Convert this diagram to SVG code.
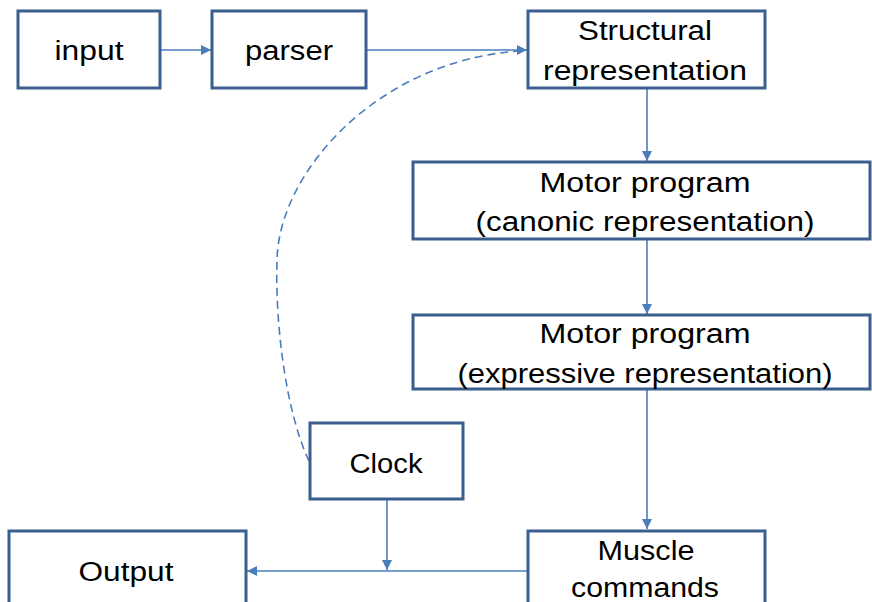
<svg xmlns="http://www.w3.org/2000/svg" width="872" height="602" viewBox="0 0 872 602">
  <style>
    .box { fill: #ffffff; stroke: #3a5f8e; stroke-width: 3; }
    .lbl { font-family: "Liberation Sans", Arial, sans-serif; font-size: 27px; fill: #000000; text-anchor: middle; }
    .edge { fill: none; stroke: #4a7ebb; stroke-width: 1.6; }
    .dash { stroke-dasharray: 8 5; }
  </style>
  <defs>
    <marker id="arrow" viewBox="0 0 10 10" refX="10" refY="5" markerWidth="10" markerHeight="10" markerUnits="userSpaceOnUse" orient="auto">
      <path d="M0,0 L10,5 L0,10 Z" fill="#4a7ebb"/>
    </marker>
  </defs>
  <rect width="872" height="602" fill="#ffffff"/>

  <g id="connectors">
    <line class="edge" x1="160" y1="50" x2="211" y2="50" marker-end="url(#arrow)"/>
    <line class="edge" x1="366" y1="50" x2="527" y2="50" marker-end="url(#arrow)"/>
    <path class="edge dash" d="M309,461 C285,410 275,320 277,260 C279,170 380,60 520,51"/>
    <line class="edge" x1="647" y1="88" x2="647" y2="161" marker-end="url(#arrow)"/>
    <line class="edge" x1="647" y1="239" x2="647" y2="314" marker-end="url(#arrow)"/>
    <line class="edge" x1="647" y1="389" x2="647" y2="529" marker-end="url(#arrow)"/>
    <line class="edge" x1="527" y1="571" x2="247" y2="571" marker-end="url(#arrow)"/>
    <line class="edge" x1="387" y1="499" x2="387" y2="570" marker-end="url(#arrow)"/>
  </g>

  <g id="input">
    <rect class="box" x="18" y="11" width="142" height="77"/>
    <text class="lbl" x="89" y="60" textLength="69" lengthAdjust="spacingAndGlyphs">input</text>
  </g>
  <g id="parser">
    <rect class="box" x="212" y="11" width="154" height="77"/>
    <text class="lbl" x="289" y="60" textLength="88" lengthAdjust="spacingAndGlyphs">parser</text>
  </g>
  <g id="structural">
    <rect class="box" x="528" y="11" width="237" height="77"/>
    <text class="lbl" x="645" y="40" textLength="134" lengthAdjust="spacingAndGlyphs">Structural</text>
    <text class="lbl" x="645" y="80" textLength="204" lengthAdjust="spacingAndGlyphs">representation</text>
  </g>
  <g id="motor-canonic">
    <rect class="box" x="413" y="162" width="457" height="77"/>
    <text class="lbl" x="645" y="192" textLength="211" lengthAdjust="spacingAndGlyphs">Motor program</text>
    <text class="lbl" x="645" y="231" textLength="339" lengthAdjust="spacingAndGlyphs">(canonic representation)</text>
  </g>
  <g id="motor-expressive">
    <rect class="box" x="413" y="315" width="457" height="74"/>
    <text class="lbl" x="645" y="343" textLength="211" lengthAdjust="spacingAndGlyphs">Motor program</text>
    <text class="lbl" x="645" y="383" textLength="375" lengthAdjust="spacingAndGlyphs">(expressive representation)</text>
  </g>
  <g id="clock">
    <rect class="box" x="310" y="423" width="153" height="76"/>
    <text class="lbl" x="386" y="473" textLength="73" lengthAdjust="spacingAndGlyphs">Clock</text>
  </g>
  <g id="output">
    <rect class="box" x="9" y="531" width="237" height="80"/>
    <text class="lbl" x="126" y="581" textLength="95" lengthAdjust="spacingAndGlyphs">Output</text>
  </g>
  <g id="muscle">
    <rect class="box" x="528" y="531" width="237" height="80"/>
    <text class="lbl" x="646" y="560" textLength="97" lengthAdjust="spacingAndGlyphs">Muscle</text>
    <text class="lbl" x="645" y="597" textLength="148" lengthAdjust="spacingAndGlyphs">commands</text>
  </g>
</svg>
